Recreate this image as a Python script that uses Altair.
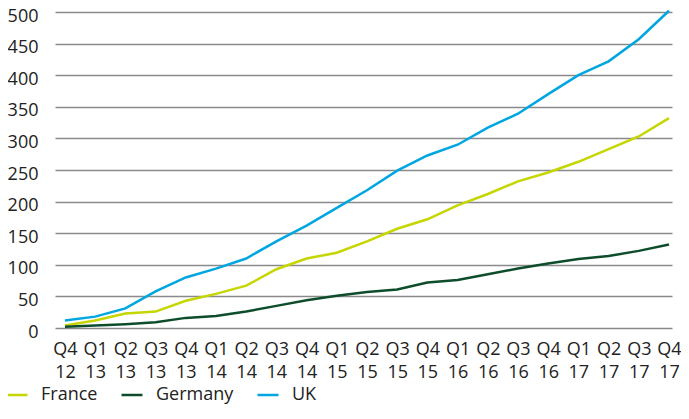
import json
import altair as alt
import pandas as pd

quarters = ["Q4 12", "Q1 13", "Q2 13", "Q3 13", "Q4 13", "Q1 14", "Q2 14", "Q3 14", "Q4 14",
            "Q1 15", "Q2 15", "Q3 15", "Q4 15", "Q1 16", "Q2 16", "Q3 16", "Q4 16",
            "Q1 17", "Q2 17", "Q3 17", "Q4 17"]
france = [4, 12, 23, 26, 43, 54, 67, 93, 110, 119, 137, 157, 172, 194, 212, 232, 246, 263, 283, 303, 332]
germany = [2, 4, 6, 9, 16, 19, 26, 35, 44, 51, 57, 61, 72, 76, 85, 94, 102, 109, 114, 122, 132]
uk = [12, 18, 31, 58, 80, 94, 110, 137, 162, 190, 218, 249, 273, 290, 317, 339, 370, 400, 422, 457, 502]

series = ["France", "Germany", "UK"]
colors = ["#c5d600", "#0e4d2b", "#00a6e0"]

rows = []
for name, vals in zip(series, [france, germany, uk]):
    for i, v in enumerate(vals):
        rows.append({"idx": i, "quarter": quarters[i], "value": v, "country": name})
df = pd.DataFrame(rows)

FONT = "Open Sans"
label_expr = "split(" + json.dumps(quarters) + "[datum.value], ' ')"

chart = alt.Chart(df).mark_line(strokeWidth=2.5).encode(
    x=alt.X("idx:Q",
            scale=alt.Scale(domain=[-0.33, 20.1], nice=False, zero=False),
            axis=alt.Axis(values=list(range(21)), labelExpr=label_expr, title=None,
                          grid=False, domain=False, ticks=False, tickSize=0,
                          labelPadding=12, labelLineHeight=23, labelFlush=False,
                          labelOverlap=False, labelBound=False)),
    y=alt.Y("value:Q",
            scale=alt.Scale(domain=[0, 500], nice=False),
            axis=alt.Axis(values=list(range(0, 501, 50)), title=None, domain=False,
                          ticks=False, tickSize=0, labelPadding=17, labelOffset=4,
                          gridColor="#8a8a8a", gridWidth=1.5)),
    color=alt.Color("country:N",
                    scale=alt.Scale(domain=series, range=colors),
                    legend=alt.Legend(title=None, orient="none", legendX=-50, legendY=371,
                                      direction="horizontal", symbolType="stroke",
                                      symbolSize=441, symbolStrokeWidth=2.5,
                                      labelOffset=12, columnPadding=18,
                                      labelFontSize=18, labelFont=FONT, labelColor="#222222")),
).properties(
    width=617, height=316,
    autosize=alt.AutoSizeParams(type="none"),
    padding={"left": 47, "top": 4, "right": 9, "bottom": 78},
).configure_view(stroke=None).configure_axis(
    labelFont=FONT, labelFontSize=18, labelColor="#222222"
)

chart.save("out.html", embed_options={"renderer": "svg", "actions": False})
